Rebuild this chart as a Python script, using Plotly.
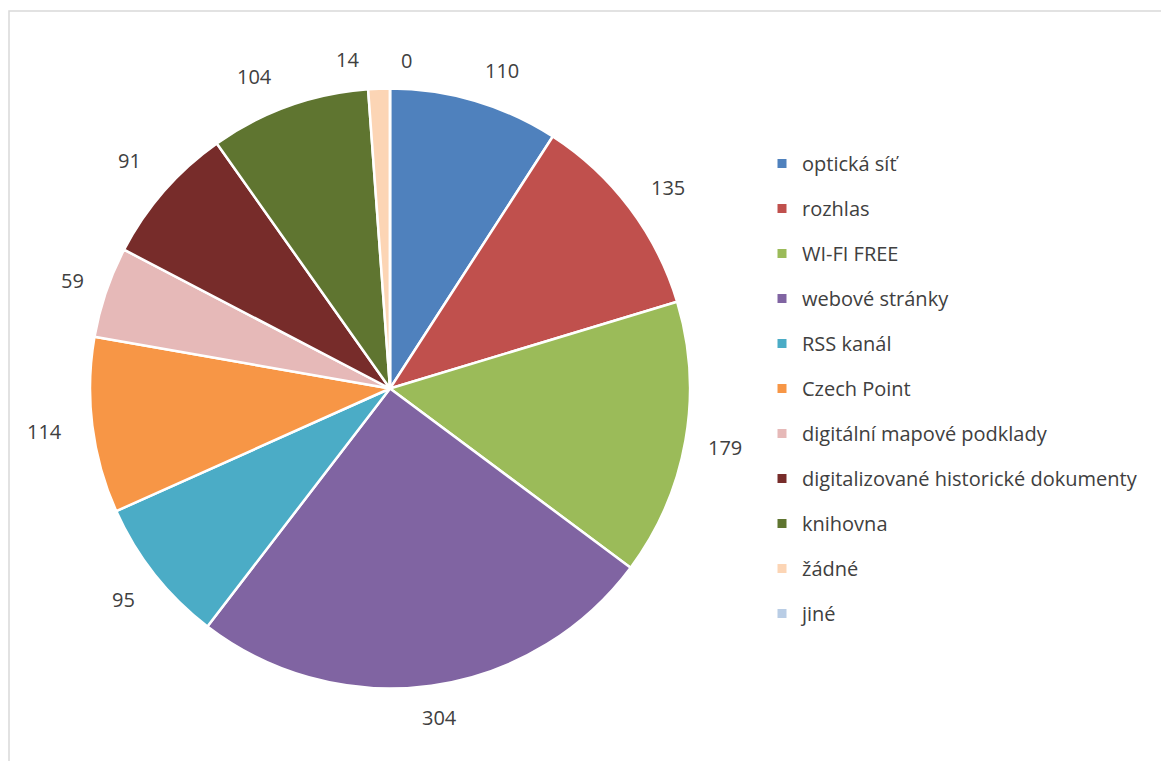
import math
import plotly.graph_objects as go

categories = ["optická síť", "rozhlas", "WI-FI FREE", "webové stránky", "RSS kanál",
              "Czech Point", "digitální mapové podklady",
              "digitalizované historické dokumenty", "knihovna", "žádné", "jiné"]
values = [110, 135, 179, 304, 95, 114, 59, 91, 104, 14, 0]
colors = ["#4F81BD", "#C0504D", "#9BBB59", "#8064A2", "#4BACC6", "#F79646",
          "#E6B9B8", "#772C2A", "#5F7530", "#FCD5B5", "#B9CDE5"]

W, H = 1169, 761
FONT = "Open Sans"
TXT = "#404040"

# pie geometry (figure pixels)
CX, CY, R = 382, 380.5, 300
LABEL_DIST = 340
# small label nudges (angle degrees, distance px) to keep crowded labels apart, like Excel's best fit
nudge = {0: (3.0, -3), 1: (1.0, 3), 3: (-0.7, -7), 5: (0, 8), 6: (0, -5),
         7: (0, 6), 8: (-3.8, 0), 9: (-5.3, -8), 10: (2.8, -12)}

fig = go.Figure()
fig.add_trace(go.Pie(
    labels=categories, values=values, sort=False, direction="clockwise", rotation=0,
    marker=dict(colors=colors, line=dict(color="white", width=2.5)),
    textinfo="none", showlegend=False, hoverinfo="label+value",
    domain=dict(x=[(CX - R) / W, (CX + R) / W], y=[1 - (CY + R) / H, 1 - (CY - R) / H]),
))

for name, col in zip(categories, colors):
    fig.add_trace(go.Scatter(
        x=[None], y=[None], mode="markers", name=name, legendgroup=name,
        marker=dict(symbol="square", size=9, color=col),
        showlegend=True, hoverinfo="skip",
    ))

total = sum(values)
annotations = []
cum = 0
for i, v in enumerate(values):
    da, dd = nudge.get(i, (0, 0))
    mid = (cum + v / 2) / total * 360 + da
    cum += v
    a = math.radians(mid)
    d = LABEL_DIST + dd
    px = CX + d * math.sin(a)
    py = CY - d * math.cos(a)
    annotations.append(dict(
        x=px / W, y=1 - py / H, xref="paper", yref="paper",
        text=str(v), showarrow=False, xanchor="center", yanchor="middle",
        font=dict(family=FONT, size=20, color=TXT),
    ))

fig.update_layout(
    width=W, height=H,
    margin=dict(l=0, r=0, t=0, b=0),
    paper_bgcolor="white", plot_bgcolor="white",
    xaxis=dict(visible=False), yaxis=dict(visible=False),
    legend=dict(x=754 / W, y=1 - 136 / H, xanchor="left", yanchor="top",
                font=dict(family=FONT, size=20, color=TXT),
                tracegroupgap=16, itemwidth=30, bgcolor="rgba(0,0,0,0)"),
    annotations=annotations,
    shapes=[dict(type="rect", xref="paper", yref="paper",
                 x0=1 / W, x1=1.02, y0=-0.02, y1=1 - 3 / H,
                 line=dict(color="#D9D9D9", width=1.5), layer="below")],
)

fig.write_html("out.html")
